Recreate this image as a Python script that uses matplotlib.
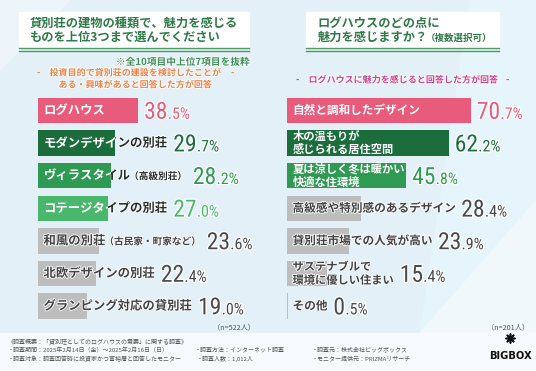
import matplotlib
matplotlib.use('Agg')
import matplotlib.pyplot as plt
from matplotlib import font_manager as fm
from matplotlib.patches import Rectangle, Polygon
import matplotlib.patheffects as pe

plt.rcParams['font.family'] = ['Noto Sans CJK JP', 'DejaVu Sans']

# ---------------- data ----------------
left_labels = ['ログハウス', 'モダンデザインの別荘', 'ヴィラスタイル', 'コテージタイプの別荘',
               '和風の別荘', '北欧デザインの別荘', 'グランピング対応の貸別荘']
left_subs = ['', '', '（高級別荘）', '', '（古民家・町家など）', '', '']
left_values = [38.5, 29.7, 28.2, 27.0, 23.6, 22.4, 19.0]
left_n = '（n=522人）'

right_labels = ['自然と調和したデザイン', '木の温もりが\n感じられる居住空間', '夏は涼しく冬は暖かい\n快適な住環境',
                '高級感や特別感のあるデザイン', '貸別荘市場での人気が高い', 'サステナブルで\n環境に優しい住まい', 'その他']
right_values = [70.7, 62.2, 45.8, 28.4, 23.9, 15.4, 0.5]
right_n = '（n=201人）'

left_title = ['貸別荘の建物の種類で、魅力を感じる', 'ものを上位3つまで選んでください']
right_title = ['ログハウスのどの点に', '魅力を感じますか？', '（複数選択可）']
left_note = '※全10項目中上位7項目を抜粋'
left_sub = ['投資目的で貸別荘の建設を検討したことが', 'ある・興味があると回答した方が回答']
right_sub = 'ログハウスに魅力を感じると回答した方が回答'

footer = [
    (8, 341, '《調査概要：「貸別荘としてのログハウスの需要」に関する調査》'),
    (8, 350, '・調査期間：2025年2月14日（金）～2025年2月16日（日）'),
    (195, 350, '・調査方法：インターネット調査'),
    (312, 350, '・調査元：株式会社ビッグボックス'),
    (8, 359, '・調査対象：調査回答時に投資家かつ富裕層と回答したモニター'),
    (197, 359, '・調査人数：1,012人'),
    (312, 359, '・モニター提供元：PRIZMAリサーチ'),
]

PINK, DGREEN, MGREEN, LGREEN, GREY = '#e95b7b', '#1b6d3b', '#2f9a52', '#49b86c', '#bdbdbd'
left_bar_colors = [PINK, DGREEN, MGREEN, LGREEN, GREY, GREY, GREY]
right_bar_colors = [PINK, DGREEN, MGREEN, GREY, GREY, GREY, GREY]

# ---------- number font (condensed if available) ----------
num_fp = None
ttf = fm.fontManager.ttflist
for cand in ['Roboto Condensed', 'Liberation Sans Narrow']:
    for f in ttf:
        if f.name == cand and f.style == 'normal' and f.weight in (400, 'normal', 'regular', 500, 'medium'):
            num_fp = fm.FontProperties(fname=f.fname)
            break
    if num_fp:
        break
if num_fp is None:
    for f in ttf:
        fn = f.fname.lower()
        if ('condensed' in fn or 'narrow' in fn) and 'bold' not in fn and 'oblique' not in fn \
                and 'italic' not in fn and 'sans' in fn and 'mono' not in fn and 'serif' not in fn:
            num_fp = fm.FontProperties(fname=f.fname)
            break
if num_fp is None:
    num_fp = fm.FontProperties(family='Roboto')
_file = str(num_fp.get_file() or '').lower()
condensed = ('condensed' in _file) or ('narrow' in _file)

W, H = 536, 371
fig = plt.figure(figsize=(W / 100, H / 100), dpi=100)
bg = fig.add_axes([0, 0, 1, 1])
bg.set_xlim(0, W)
bg.set_ylim(H, 0)
bg.axis('off')
bg.set_zorder(0)

# background
bg.add_patch(Rectangle((0, 0), W, H, color='#e4f0f8', zorder=0))
bg.add_patch(Polygon([(0, 0), (70, 0), (0, 70)], color='#edf5fb', zorder=0.1))
bg.add_patch(Polygon([(470, 0), (536, 0), (536, 330), (420, 330)], color='#e6f5fb', zorder=0.1))
bg.add_patch(Polygon([(536, 200), (536, 332), (420, 332)], color='#f1f8fc', zorder=0.2))
bg.add_patch(Rectangle((0, 333), W, H - 333, color='#f7fafc', zorder=0.3))

def title_box(x0, x1):
    bg.add_patch(Rectangle((x0, 12), x1 - x0, 35, color='white', zorder=1))
    bg.plot([x0, x1], [48.3, 48.3], color='#4d9a62', lw=1.0, zorder=2)
    bg.plot([x0, x1], [50.8, 50.8], color='#4d9a62', lw=1.0, zorder=2)

title_box(19, 249)
title_box(306, 499)
tcol = '#2f7a48'
bg.text(30, 23, left_title[0], fontsize=8.8, fontweight='bold', color=tcol, va='center', ha='left', zorder=3)
bg.text(30, 37.5, left_title[1], fontsize=8.8, fontweight='bold', color=tcol, va='center', ha='left', zorder=3)
bg.text(318, 23, right_title[0], fontsize=8.8, fontweight='bold', color=tcol, va='center', ha='left', zorder=3)
t2 = bg.text(318, 37.5, right_title[1], fontsize=8.8, fontweight='bold', color=tcol, va='center', ha='left', zorder=3)

renderer = fig.canvas.get_renderer()

def right_edge_px(t):
    return t.get_window_extent(renderer).x1

bg.text(right_edge_px(t2) - 2, 38, right_title[2], fontsize=6.8, fontweight='bold', color=tcol,
        va='center', ha='left', zorder=3)

white_stroke = [pe.withStroke(linewidth=1.8, foreground='white')]
thin_stroke = [pe.withStroke(linewidth=1.2, foreground='white')]
bg.text(250, 62, left_note, fontsize=7.0, fontweight='bold', color='#3f8f57', ha='right', va='center',
        zorder=3, path_effects=thin_stroke)
ocol = '#e8844a'
bg.text(135, 73, left_sub[0], fontsize=6.5, fontweight='bold', color=ocol, ha='center', va='center', zorder=3,
        path_effects=thin_stroke)
bg.text(135, 85, left_sub[1], fontsize=6.5, fontweight='bold', color=ocol, ha='center', va='center', zorder=3,
        path_effects=thin_stroke)
bg.text(38, 73, '-', fontsize=6.6, fontweight='bold', color=ocol, ha='center', va='center', zorder=3)
bg.text(232, 73, '-', fontsize=6.6, fontweight='bold', color=ocol, ha='center', va='center', zorder=3)
pcol = '#c8448e'
bg.text(403, 80, right_sub, fontsize=6.5, fontweight='bold', color=pcol, ha='center', va='center', zorder=3,
        path_effects=thin_stroke)
bg.text(297, 80, '-', fontsize=6.6, fontweight='bold', color=pcol, ha='center', va='center', zorder=3)
bg.text(507, 80, '-', fontsize=6.6, fontweight='bold', color=pcol, ha='center', va='center', zorder=3)

# ---------------- bar panels ----------------
SCALE = 2.6  # px per percent
ROW = 32.6
TOP = 94.2
BAR_H = 0.78
NUM_BIG = 17 if condensed else 15.8
NUM_SMALL = 11.5 if condensed else 10.5
DARK_OUT = '#26302b'

def make_panel(x_left, labels, subs, values, colors, fs_one, fs_two):
    n = len(values)
    hpx = ROW * n
    ax = fig.add_axes([x_left / W, (H - TOP - hpx) / H, 100 * SCALE / W, hpx / H])
    ax.set_zorder(2)
    ax.patch.set_alpha(0)
    ax.barh(range(n), values, height=BAR_H, color=colors, zorder=1)
    ax.set_xlim(0, 100)
    ax.set_ylim(n - 0.5, -0.5)
    ax.axis('off')
    for i, (lab, v) in enumerate(zip(labels, values)):
        two_line = '\n' in lab
        fs = fs_two if two_line else fs_one
        coloured = colors[i] != GREY
        tcolor = DARK_OUT if coloured else '#444444'
        parts = [(lab, fs, 0.0)]
        if subs[i]:
            parts.append((subs[i], fs * 0.78, 0.02))
        x = 5.5 / SCALE
        whites = []
        end = 0
        for txt, size, dy in parts:
            t = ax.text(x, i + dy, txt, fontsize=size, fontweight='bold', color=tcolor,
                        ha='left', va='center', linespacing=1.05, zorder=3, path_effects=thin_stroke)
            if coloured:
                whites.append((x, i + dy, txt, size))
            end = right_edge_px(t)
            x = ax.transData.inverted().transform((end, 0))[0] - 1.0 / SCALE
        if coloured:
            cover = ax.barh([i], [v], height=BAR_H, color=colors[i], zorder=3.5)[0]
            for (xx, yy, txt, size) in whites:
                tw = ax.text(xx, yy, txt, fontsize=size, fontweight='bold', color='white',
                             ha='left', va='center', linespacing=1.05, zorder=4, clip_on=True)
                tw.set_clip_path(cover)
        bar_end = ax.transData.transform((v, i))
        cy = H - bar_end[1]
        xpx = max(bar_end[0], end) + 6
        s = f'{v:.1f}'
        ip, dp = s.split('.')
        vcol = colors[i] if coloured else '#4a4a4a'
        tb = bg.text(xpx, cy + 8.3, ip, fontproperties=num_fp, fontsize=NUM_BIG, color=vcol,
                     ha='left', va='baseline', zorder=4, path_effects=white_stroke)
        bg.text(right_edge_px(tb) + 0.3, cy + 8.3, '.' + dp + '%', fontproperties=num_fp, fontsize=NUM_SMALL,
                color=vcol, ha='left', va='baseline', zorder=4, path_effects=white_stroke)
    return ax

make_panel(38, left_labels, left_subs, left_values, left_bar_colors, 8.9, 8.3)
make_panel(287, right_labels, [''] * len(right_labels), right_values, right_bar_colors, 8.4, 8.1)

bg.text(255, 327, left_n, fontsize=5.2, color='#555555', ha='right', va='center', zorder=3)
bg.text(529, 327, right_n, fontsize=5.2, color='#555555', ha='right', va='center', zorder=3)

for x, y, s in footer:
    bg.text(x, y, s, fontsize=4.3, color='#555555', ha='left', va='center', zorder=3)

bg.scatter([510], [338], marker=(8, 2, 0), s=40, color='#111111', linewidths=1.2, zorder=4)
bg.text(510, 356, 'BIGBOX', fontsize=7.2, fontweight='bold', fontfamily='DejaVu Sans', color='#111111',
        ha='center', va='center', zorder=4)

fig.savefig('out.png', dpi=100)
